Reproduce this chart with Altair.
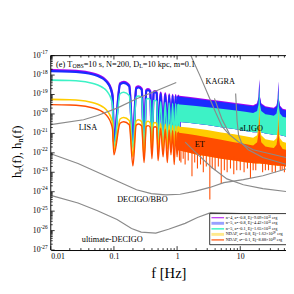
import altair as alt
import pandas as pd

SERIF = "Liberation Serif"

# ---------------- read values (log10 of strain) ----------------
lobe_f = [0.01, 0.02, 0.03, 0.04, 0.05, 0.06, 0.07, 0.08, 0.09, 0.095,
          0.1, 0.125, 0.143, 0.175, 0.2,
          0.225, 0.246, 0.275, 0.3,
          0.325, 0.347, 0.375, 0.4,
          0.425, 0.448, 0.475, 0.5,
          0.55, 0.6, 0.65, 0.7, 0.75, 0.8, 0.85, 0.9, 0.95, 1.0, 1.05, 1.1]

purple_lobe = [-17.75, -17.77, -17.81, -17.87, -17.95, -18.05, -18.18, -18.38, -18.71, -19.05,
               -21.5, -18.43, -18.35, -18.53, -21.6,
               -18.65, -18.59, -18.70, -21.6,
               -18.77, -18.73, -18.81, -21.5,
               -18.86, -18.83, -18.89, -21.4,
               -18.90, -21.3, -18.95, -21.2, -18.99, -21.2, -19.02, -21.1, -19.04, -21.0, -19.06, -21.0]
blue_lobe = [-17.80, -17.82, -17.86, -17.92, -18.00, -18.10, -18.23, -18.43, -18.76, -19.10,
             -21.5, -18.48, -18.40, -18.58, -21.6,
             -18.70, -18.64, -18.75, -21.6,
             -18.82, -18.78, -18.86, -21.5,
             -18.91, -18.88, -18.94, -21.4,
             -18.95, -21.3, -19.00, -21.2, -19.04, -21.2, -19.07, -21.1, -19.09, -21.0, -19.11, -21.0]
cyan_lobe = [-18.26, -18.28, -18.32, -18.38, -18.46, -18.56, -18.69, -18.89, -19.22, -19.55,
             -21.7, -18.96, -18.88, -19.05, -21.8,
             -19.14, -19.08, -19.18, -21.8,
             -19.26, -19.21, -19.29, -21.7,
             -19.33, -19.30, -19.36, -21.6,
             -19.37, -21.5, -19.41, -21.5, -19.44, -21.4, -19.46, -21.4, -19.48, -21.3, -19.50, -21.3]
yellow_lobe = [-19.25, -19.27, -19.31, -19.37, -19.45, -19.55, -19.68, -19.88, -20.20, -20.50,
               -21.9, -20.26, -20.18, -20.34, -22.2,
               -20.36, -20.30, -20.40, -22.2,
               -20.43, -20.38, -20.46, -22.0,
               -20.48, -20.44, -20.50, -21.9,
               -20.49, -21.9, -20.53, -21.8, -20.56, -21.8, -20.59, -21.7, -20.62, -21.7, -20.64, -21.6]
orange_lobe = [-19.52, -19.54, -19.58, -19.64, -19.72, -19.82, -19.95, -20.15, -20.48, -20.80,
               -22.1, -20.48, -20.40, -20.56, -22.67,
               -20.58, -20.52, -20.62, -22.5,
               -20.65, -20.60, -20.68, -22.3,
               -20.70, -20.66, -20.72, -22.4,
               -20.73, -22.2, -20.78, -22.5, -20.82, -22.1, -20.86, -22.6, -20.90, -22.2, -20.93, -22.4]

dense_f = [1.0, 1.5, 2.0, 3.0, 5.0, 8.0, 12.0, 16.0, 18.5, 19.5, 20.0, 20.5, 21.5,
           25.0, 30.0, 34.0, 37.5, 39.2, 40.0, 40.8, 42.5, 47.0, 53.0]
purple_top = [-19.05, -19.12, -19.17, -19.24, -19.33, -19.42, -19.50, -19.55, -19.45, -19.10, -18.20, -19.10, -19.45,
              -19.61, -19.65, -19.68, -19.57, -19.20, -18.30, -19.20, -19.57, -19.73, -19.77]
blue_top = [-19.10, -19.17, -19.22, -19.29, -19.38, -19.47, -19.55, -19.60, -19.50, -19.15, -18.25, -19.15, -19.50,
            -19.66, -19.70, -19.73, -19.62, -19.25, -18.35, -19.25, -19.62, -19.78, -19.82]
cyan_top = [-19.50, -19.55, -19.59, -19.65, -19.73, -19.81, -19.89, -19.95, -19.85, -19.50, -18.60, -19.50, -19.85,
            -20.01, -20.05, -20.09, -19.98, -19.60, -18.75, -19.60, -19.98, -20.14, -20.18]
cyan_bottom = [-20.40, -20.45, -20.50, -20.57, -20.68, -20.78, -20.88, -20.94, -20.94, -20.94, -20.94, -20.94, -20.94,
               -21.00, -21.05, -21.08, -21.08, -21.08, -21.08, -21.08, -21.08, -21.12, -21.16]
yellow_top = [-20.64, -20.70, -20.75, -20.83, -20.95, -21.05, -21.15, -21.22, -21.10, -20.60, -19.40, -20.60, -21.10,
              -21.30, -21.35, -21.38, -21.25, -20.80, -19.60, -20.80, -21.25, -21.43, -21.48]
orange_top = [-20.95, -21.03, -21.10, -21.20, -21.33, -21.45, -21.55, -21.62, -21.45, -20.95, -20.10, -20.95, -21.45,
              -21.68, -21.72, -21.75, -21.58, -21.15, -20.30, -21.15, -21.58, -21.80, -21.84]
orange_bottom = [-21.85, -21.98, -22.08, -22.18, -22.30, -22.40, -22.48, -22.53, -22.55, -22.55, -22.55, -22.55, -22.56,
                 -22.58, -22.62, -22.64, -22.65, -22.66, -22.66, -22.66, -22.67, -22.68, -22.70]

spike_f = [1.15, 1.25, 1.34, 1.5, 1.72, 1.9, 2.1, 2.35, 2.6, 2.9, 3.3, 3.6, 4.0, 4.5, 5.0, 5.6, 6.2, 7.0,
           7.9, 8.8, 10.0, 11.5, 13.0, 14.5, 16.0, 17.6, 22.6, 25.0, 28.0, 32.0, 36.0, 43.0, 46.0, 50.0]
spike_top = [-21.6, -21.6, -21.7, -21.7, -21.8, -21.8, -21.9, -21.9, -21.9, -22.0, -22.0, -22.0, -22.1, -22.1,
             -22.1, -22.2, -22.2, -22.2, -22.2, -22.3, -22.3, -22.3, -22.3, -22.3, -22.3, -22.3, -22.4, -22.4,
             -22.4, -22.4, -22.4, -22.4, -22.4, -22.4]
spike_low = [-22.5, -22.3, -22.6, -22.4, -23.2, -22.5, -22.8, -22.6, -23.0, -22.7, -24.4, -22.8, -22.9, -22.7,
             -23.6, -22.9, -23.0, -22.8, -23.1, -22.9, -22.9, -23.0, -22.8, -23.3, -22.9, -22.9, -23.0, -22.9,
             -22.9, -23.0, -23.0, -22.9, -22.9, -23.0]

lisa_f = [0.01, 0.033, 0.055, 0.112, 0.228, 0.46, 0.97]
lisa_h = [-20.55, -20.30, -20.08, -19.70, -19.22, -18.82, -18.38]
kagra_f = [1.6, 2.27, 3.22, 4.1, 5.15, 6.6, 9.4, 16.0, 53.0]
kagra_h = [-16.9, -17.99, -19.14, -19.94, -20.64, -21.04, -21.44, -21.84, -22.24]
kagra2_f = [3.9, 5.1, 6.8]
kagra2_h = [-19.2, -20.25, -21.05]
aligo_f = [8.45, 8.9, 9.4, 10.5, 13.4, 22.8, 53.0]
aligo_h = [-18.95, -20.34, -21.09, -21.49, -21.84, -22.24, -22.59]
et_f = [1.34, 1.98, 3.5, 6.15, 11.2, 22.8, 53.0]
et_h = [-21.45, -21.99, -22.74, -23.34, -23.64, -23.84, -23.99]
decigo_f = [0.01, 0.027, 0.055, 0.112, 0.228, 0.39, 0.66, 1.12, 1.9, 3.3, 5.5, 11.2, 22.8, 53.0]
decigo_h = [-22.05, -22.55, -23.0, -23.45, -23.9, -24.1, -24.16, -24.13, -23.98, -23.78, -23.53, -23.38, -23.18, -22.83]
udecigo_f = [0.01, 0.027, 0.055, 0.112, 0.19, 0.27, 0.46, 0.73, 1.34, 2.1, 3.4, 6.0, 53.0]
udecigo_h = [-24.19, -24.58, -24.98, -25.43, -25.89, -26.08, -26.13, -25.93, -25.63, -25.33, -25.08, -25.1, -25.2]

note_text = ["LISA", "KAGRA", "aLIGO", "ET", "DECIGO/BBO", "ultimate-DECIGO"]
note_f = [0.0388, 4.81, 14.9, 2.28, 0.282, 0.094]
note_h = [-20.69, -18.33, -20.74, -21.53, -24.39, -26.44]

legend_labels = ["n=4, a\u2022=0.8, Ej=9.09\u00d710\u2075\u00b9 erg",
                 "n=5, a\u2022=0.8, Ej=4.42\u00d710\u2075\u00b9 erg",
                 "n=5, a\u2022=0.1, Ej=1.65\u00d710\u2075\u00b9 erg",
                 "NDAF, a\u2022=0.8, Ej=1.62\u00d710\u2075\u2070 erg",
                 "NDAF, a\u2022=0.1, Ej=8.88\u00d710\u2074\u2079 erg"]

x_major = [0.01, 0.1, 1, 10]
y_exp = [-17, -18, -19, -20, -21, -22, -23, -24, -25, -26, -27]

C_PURPLE, C_BLUE, C_CYAN, C_YELLOW, C_ORANGE = "#a800f0", "#1a2cff", "#3df2c6", "#ffcc00", "#ff4d00"
GRAY = "#8a8a8a"

W, H = 242, 200
XS = alt.Scale(type="log", domain=[0.01, 53.0], nice=False)
YS = alt.Scale(type="log", domain=[1e-27, 1e-17], nice=False)
X_AXIS = alt.Axis(values=x_major, format="~g", ticks=False, grid=False, domainColor="black",
                  domainWidth=1, labelFont=SERIF, labelFontSize=8, labelColor="black", labelPadding=3,
                  title="f [Hz]", titleFont=SERIF, titleFontSize=15, titleFontWeight="normal",
                  titleColor="black", titlePadding=5)
xenc = alt.X("f:Q", scale=XS, axis=X_AXIS)
yenc = alt.Y("h:Q", scale=YS, axis=None)


def pts(fs, logs):
    return pd.DataFrame({"f": fs, "h": [10.0 ** v for v in logs]})


def band(fs, tops, bots):
    return pd.DataFrame({"f": fs, "h": [10.0 ** v for v in tops], "h2": [10.0 ** v for v in bots]})


layers = []
series = [
    (purple_lobe, purple_top, cyan_bottom, C_PURPLE, 2.4),
    (blue_lobe, blue_top, cyan_bottom, C_BLUE, 2.2),
    (cyan_lobe, cyan_top, cyan_bottom, C_CYAN, 1.6),
    (yellow_lobe, yellow_top, orange_bottom, C_YELLOW, 1.6),
    (orange_lobe, orange_top, orange_bottom, C_ORANGE, 1.5),
]
for lobe, top, bot, col, sw in series:
    layers.append(alt.Chart(pts(lobe_f, lobe)).mark_line(color=col, strokeWidth=sw, interpolate="monotone", clip=True)
                  .encode(x=xenc, y=yenc))
    layers.append(alt.Chart(band(dense_f, top, bot)).mark_area(color=col, clip=True)
                  .encode(x=xenc, y=yenc, y2="h2:Q"))

layers.append(alt.Chart(band(spike_f, spike_top, spike_low)).mark_rule(color=C_ORANGE, strokeWidth=1.1, clip=True)
              .encode(x=xenc, y=yenc, y2="h2:Q"))

for fs, hs in [(lisa_f, lisa_h), (kagra_f, kagra_h), (kagra2_f, kagra2_h), (aligo_f, aligo_h),
               (et_f, et_h), (decigo_f, decigo_h), (udecigo_f, udecigo_h)]:
    layers.append(alt.Chart(pts(fs, hs)).mark_line(color=GRAY, strokeWidth=1.2, clip=True)
                  .encode(x=xenc, y=yenc))

notes = pd.DataFrame({"f": note_f, "h": [10.0 ** v for v in note_h], "t": note_text})
layers.append(alt.Chart(notes).mark_text(font=SERIF, fontSize=8.5, fill="black", align="center", baseline="middle")
              .encode(x=xenc, y=yenc, text="t:N"))

# panel title pieces (with subscripts)
title_parts = [("(e) T", 8.5, 0.0, 0.0), ("OBS", 6.0, 16.8, 2.5), ("=10 s, N=200, D", 8.5, 28.4, 0.0),
               ("L", 6.0, 85.4, 2.5), ("=10 kpc, m=0.1", 8.5, 89.1, 0.0)]
for txt, fs_, dx, dy in title_parts:
    layers.append(alt.Chart(pd.DataFrame({"t": [txt]})).mark_text(font=SERIF, fontSize=fs_, fill="black",
                                                                 align="left", baseline="middle", dx=dx, dy=dy)
                  .encode(x=alt.value(5.5), y=alt.value(8.5), text="t:N"))

# y axis title pieces (rotated)
ytitle_parts = [("h", 13, 0.0, 0.0), ("c", 9, 6.5, 3.5), ("(f), h", 13, 10.5, 0.0), ("n", 9, 36.5, 3.5), ("(f)", 13, 41.0, 0.0)]
for txt, fs_, dx, dy in ytitle_parts:
    layers.append(alt.Chart(pd.DataFrame({"t": [txt]})).mark_text(font=SERIF, fontSize=fs_, fill="black", angle=270,
                                                                 align="left", baseline="middle", dx=dx, dy=dy)
                  .encode(x=alt.value(-35), y=alt.value(126), text="t:N"))

# y tick labels 10^n
ylab = pd.DataFrame({"f": [0.01] * len(y_exp), "h": [10.0 ** e for e in y_exp],
                     "base": ["10"] * len(y_exp), "ex": [str(e) for e in y_exp]})
layers.append(alt.Chart(ylab).mark_text(font=SERIF, fontSize=8, fill="black", align="right", baseline="middle")
              .encode(x=alt.value(-10.5), y=yenc, text="base:N"))
layers.append(alt.Chart(ylab).mark_text(font=SERIF, fontSize=5.5, fill="black", align="left", baseline="middle", dy=-3.5)
              .encode(x=alt.value(-10.5), y=yenc, text="ex:N"))

# inward ticks
x_minor = [m * d for d in [0.01, 0.1, 1, 10] for m in range(2, 10) if m * d <= 53.0]
y_minor = [m * 10.0 ** e for e in y_exp[1:] for m in range(2, 10)]
xt_major = pd.DataFrame({"f": x_major})
xt_minor = pd.DataFrame({"f": x_minor})
yt_major = pd.DataFrame({"h": [10.0 ** e for e in y_exp]})
yt_minor = pd.DataFrame({"h": y_minor})
for df, ln in [(xt_major, 4), (xt_minor, 2)]:
    layers.append(alt.Chart(df).mark_rule(color="black", strokeWidth=0.8)
                  .encode(x=xenc, y=alt.value(H), y2=alt.value(H - ln)))
    layers.append(alt.Chart(df).mark_rule(color="black", strokeWidth=0.8)
                  .encode(x=xenc, y=alt.value(0), y2=alt.value(ln)))
for df, ln in [(yt_major, 4), (yt_minor, 2)]:
    layers.append(alt.Chart(df).mark_rule(color="black", strokeWidth=0.8)
                  .encode(y=yenc, x=alt.value(0), x2=alt.value(ln)))

one = pd.DataFrame({"k": [0]})
layers.append(alt.Chart(one).mark_rule(color="black", strokeWidth=1)
              .encode(x=alt.value(0), x2=alt.value(W), y=alt.value(0)))
layers.append(alt.Chart(one).mark_rule(color="black", strokeWidth=1)
              .encode(x=alt.value(0), y=alt.value(0), y2=alt.value(H)))

# legend box
layers.append(alt.Chart(one).mark_rect(fill="white", stroke="black", strokeWidth=0.8)
              .encode(x=alt.value(163.5), x2=alt.value(252), y=alt.value(162.5), y2=alt.value(194.5)))
leg_style = [(C_PURPLE, 1.0, 1.0), (C_BLUE, 3.0, 0.45), (C_CYAN, 1.5, 1.0), (C_YELLOW, 3.0, 0.45), (C_ORANGE, 1.2, 1.0)]
for i, (lab, (col, sw, op)) in enumerate(zip(legend_labels, leg_style)):
    yi = 166.8 + 5.7 * i
    d = pd.DataFrame({"t": [lab]})
    layers.append(alt.Chart(d).mark_rule(color=col, strokeWidth=sw, opacity=op)
                  .encode(x=alt.value(165.3), x2=alt.value(178.3), y=alt.value(yi)))
    layers.append(alt.Chart(d).mark_text(font=SERIF, fontSize=4.4, fill="black", align="left", baseline="middle")
                  .encode(x=alt.value(180), y=alt.value(yi), text="t:N"))

chart = alt.layer(*layers).properties(
    width=W, height=H,
    autosize=alt.AutoSizeParams(type="none"),
    padding={"left": 44, "top": 45, "right": 0, "bottom": 33},
).configure_view(stroke=None)

chart.save("out.html", embed_options={"renderer": "svg", "actions": False})
